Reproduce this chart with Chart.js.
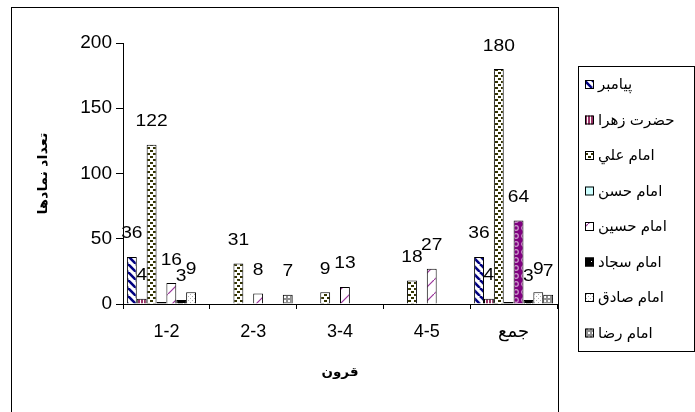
<!DOCTYPE html>
<html>
<head>
<meta charset="utf-8">
<script src="https://cdn.jsdelivr.net/npm/chart.js@4.4.1/dist/chart.umd.min.js"></script>
<style>
  html, body { margin: 0; padding: 0; background: #fff; }
  #chart { display: block; }
</style>
</head>
<body>
<canvas id="chart" width="695" height="412"></canvas>
<script>
const categories = ["1-2", "2-3", "3-4", "4-5", "جمع"];
const seriesNames = ["پيامبر", "حضرت زهرا", "امام علي", "امام حسن", "امام حسين", "امام سجاد", "امام صادق", "امام رضا"];

const paiambar = [36, null, null, null, 36];
const zahra    = [4, null, null, null, 4];
const ali      = [122, 31, 9, 18, 180];
const hasan    = [0, null, null, null, 0];
const hussain  = [16, 8, 13, 27, 64];
const sajjad   = [3, null, null, null, 3];
const sadiq    = [9, null, null, null, 9];
const reza     = [null, 7, null, null, 7];

const yTicks = [0, 50, 100, 150, 200];
const xTitle = "قرون";
const yTitle = "تعداد نمادها";

const FONT = "'Liberation Sans', Arial, 'DejaVu Sans', sans-serif";

// small tiles for Excel-like fill patterns
function tile(size, draw) {
  const c = document.createElement("canvas");
  c.width = c.height = size;
  const g = c.getContext("2d");
  draw(g, size);
  return g.createPattern(c, "repeat");
}

const patterns = {
  paiambar: tile(8, (g, s) => {
    g.fillStyle = "#fff"; g.fillRect(0, 0, s, s);
    g.strokeStyle = "#000080"; g.lineWidth = 2.6;
    for (const o of [-s, 0, s]) {
      g.beginPath(); g.moveTo(o, 0); g.lineTo(o + s, s); g.stroke();
    }
  }),
  zahra: tile(3, (g) => {
    g.fillStyle = "#fff"; g.fillRect(0, 0, 3, 3);
    g.fillStyle = "#993366"; g.fillRect(0, 0, 2, 3);
  }),
  ali: tile(6, (g) => {
    g.fillStyle = "#fff"; g.fillRect(0, 0, 6, 6);
    g.fillStyle = "#333300";
    g.fillRect(0, 0, 3, 2); g.fillRect(3, 3, 3, 2);
  }),
  hasan: "#ccffff",
  hussain: tile(14, (g, s) => {
    g.fillStyle = "#fff"; g.fillRect(0, 0, s, s);
    g.strokeStyle = "#993399"; g.lineWidth = 1.2;
    g.beginPath(); g.moveTo(0, s); g.lineTo(s, 0); g.stroke();
  }),
  hussainTotal: tile(8, (g, s) => {
    g.fillStyle = "#800080"; g.fillRect(0, 0, s, s);
    g.strokeStyle = "#cc99cc"; g.lineWidth = 1.2;
    g.beginPath(); g.arc(4, 4, 2.3, 0, Math.PI * 2); g.stroke();
  }),
  sajjad: tile(6, (g) => {
    g.fillStyle = "#000"; g.fillRect(0, 0, 6, 6);
    g.fillStyle = "#fff"; g.fillRect(3, 3, 1, 1);
  }),
  sadiq: tile(4, (g) => {
    g.fillStyle = "#fff"; g.fillRect(0, 0, 4, 4);
    g.fillStyle = "#b0b0b0"; g.fillRect(0, 0, 1, 1); g.fillRect(2, 2, 1, 1);
  }),
  reza: tile(4, (g) => {
    g.fillStyle = "#909090"; g.fillRect(0, 0, 4, 4);
    g.fillStyle = "#fff"; g.fillRect(0, 0, 2, 2);
  }),
};

const seriesData = [paiambar, zahra, ali, hasan, hussain, sajjad, sadiq, reza];
const fills = [
  patterns.paiambar, patterns.zahra, patterns.ali, patterns.hasan,
  (ctx) => (ctx.dataIndex === 4 ? patterns.hussainTotal : patterns.hussain),
  patterns.sajjad, patterns.sadiq, patterns.reza,
];
const legendFills = [
  patterns.paiambar, patterns.zahra, patterns.ali, patterns.hasan,
  patterns.hussain, patterns.sajjad, patterns.sadiq, patterns.reza,
];

const datasets = seriesNames.map((name, i) => ({
  label: name,
  data: seriesData[i],
  backgroundColor: fills[i],
  borderColor: "#000",
  borderWidth: 1,
  // the empty series shows as a flat black stub, as Excel draws a zero bar
  borderSkipped: i === 3 ? false : "bottom",
  minBarLength: i === 3 ? 2 : 0,
}));

// text stretched to a given width, like the wide Excel rendering
function fitText(ctx, text, x, y, width) {
  const w = ctx.measureText(text).width;
  ctx.save();
  ctx.translate(x, y);
  ctx.scale(width / w, 1);
  ctx.fillText(text, 0, 0);
  ctx.restore();
}

const valueLabels = {
  id: "valueLabels",
  afterDatasetsDraw(chart) {
    const ctx = chart.ctx;
    ctx.save();
    ctx.font = `16px ${FONT}`;
    ctx.fillStyle = "#000";
    ctx.textAlign = "center";
    ctx.textBaseline = "middle";
    chart.data.datasets.forEach((ds, di) => {
      chart.getDatasetMeta(di).data.forEach((bar, i) => {
        const v = ds.data[i];
        if (v == null || v === 0) return;
        const s = String(v);
        fitText(ctx, s, bar.x, bar.y - 23, ctx.measureText(s).width * 1.2);
      });
    });
    ctx.restore();
  },
};

const frame = {
  id: "frame",
  beforeDraw(chart) {
    const ctx = chart.ctx;
    ctx.save();
    ctx.fillStyle = "#fff";
    ctx.fillRect(0, 0, chart.width, chart.height);
    ctx.restore();
  },
  afterDraw(chart) {
    const ctx = chart.ctx;
    const area = chart.chartArea;
    ctx.save();
    ctx.strokeStyle = "#000";
    ctx.lineWidth = 1;
    ctx.strokeRect(11.5, 7.5, 547, 430);

    // axis titles
    ctx.fillStyle = "#000";
    ctx.textAlign = "center";
    ctx.textBaseline = "middle";
    ctx.font = `bold 13px ${FONT}`;
    fitText(ctx, xTitle, (area.left + area.right) / 2, 372, 37);
    ctx.save();
    ctx.translate(43, (area.top + area.bottom) / 2);
    ctx.rotate(-Math.PI / 2);
    fitText(ctx, yTitle, 0, 0, 82);
    ctx.restore();

    // legend box
    ctx.strokeRect(578.5, 66.5, 116, 285);
    ctx.font = `15px ${FONT}`;
    ctx.textAlign = "left";
    seriesNames.forEach((name, i) => {
      const cy = 84 + i * 35.5;
      ctx.fillStyle = legendFills[i];
      ctx.fillRect(585, cy - 4, 9, 9);
      ctx.strokeRect(585.5, cy - 3.5, 8, 8);
      ctx.fillStyle = "#000";
      ctx.fillText(name, 598, cy + 1);
    });
    ctx.restore();
  },
};

new Chart(document.getElementById("chart"), {
  type: "bar",
  data: { labels: categories, datasets },
  options: {
    responsive: false,
    animation: false,
    devicePixelRatio: 1,
    layout: { padding: { left: 0, right: 138, top: 43, bottom: 0 } },
    datasets: { bar: { categoryPercentage: 0.91, barPercentage: 1.0 } },
    plugins: { legend: { display: false }, tooltip: { enabled: false } },
    scales: {
      x: {
        offset: true,
        grid: { offset: true, drawOnChartArea: false, drawTicks: true, tickLength: 5, color: "#000" },
        border: { display: true, color: "#000", width: 1 },
        ticks: { color: "#000", font: { family: FONT, size: 18 }, padding: 12 },
        afterFit: (scale) => { scale.height = 108; },
      },
      y: {
        min: 0,
        max: 200,
        afterBuildTicks: (scale) => { scale.ticks = yTicks.map((v) => ({ value: v })); },
        grid: { drawOnChartArea: false, drawTicks: true, tickLength: 7, color: "#000" },
        border: { display: true, color: "#000", width: 1 },
        ticks: { color: "#000", font: { family: FONT, size: 19 }, padding: 4 },
        afterFit: (scale) => { scale.width = 123; },
      },
    },
  },
  plugins: [frame, valueLabels],
});
</script>
</body>
</html>
